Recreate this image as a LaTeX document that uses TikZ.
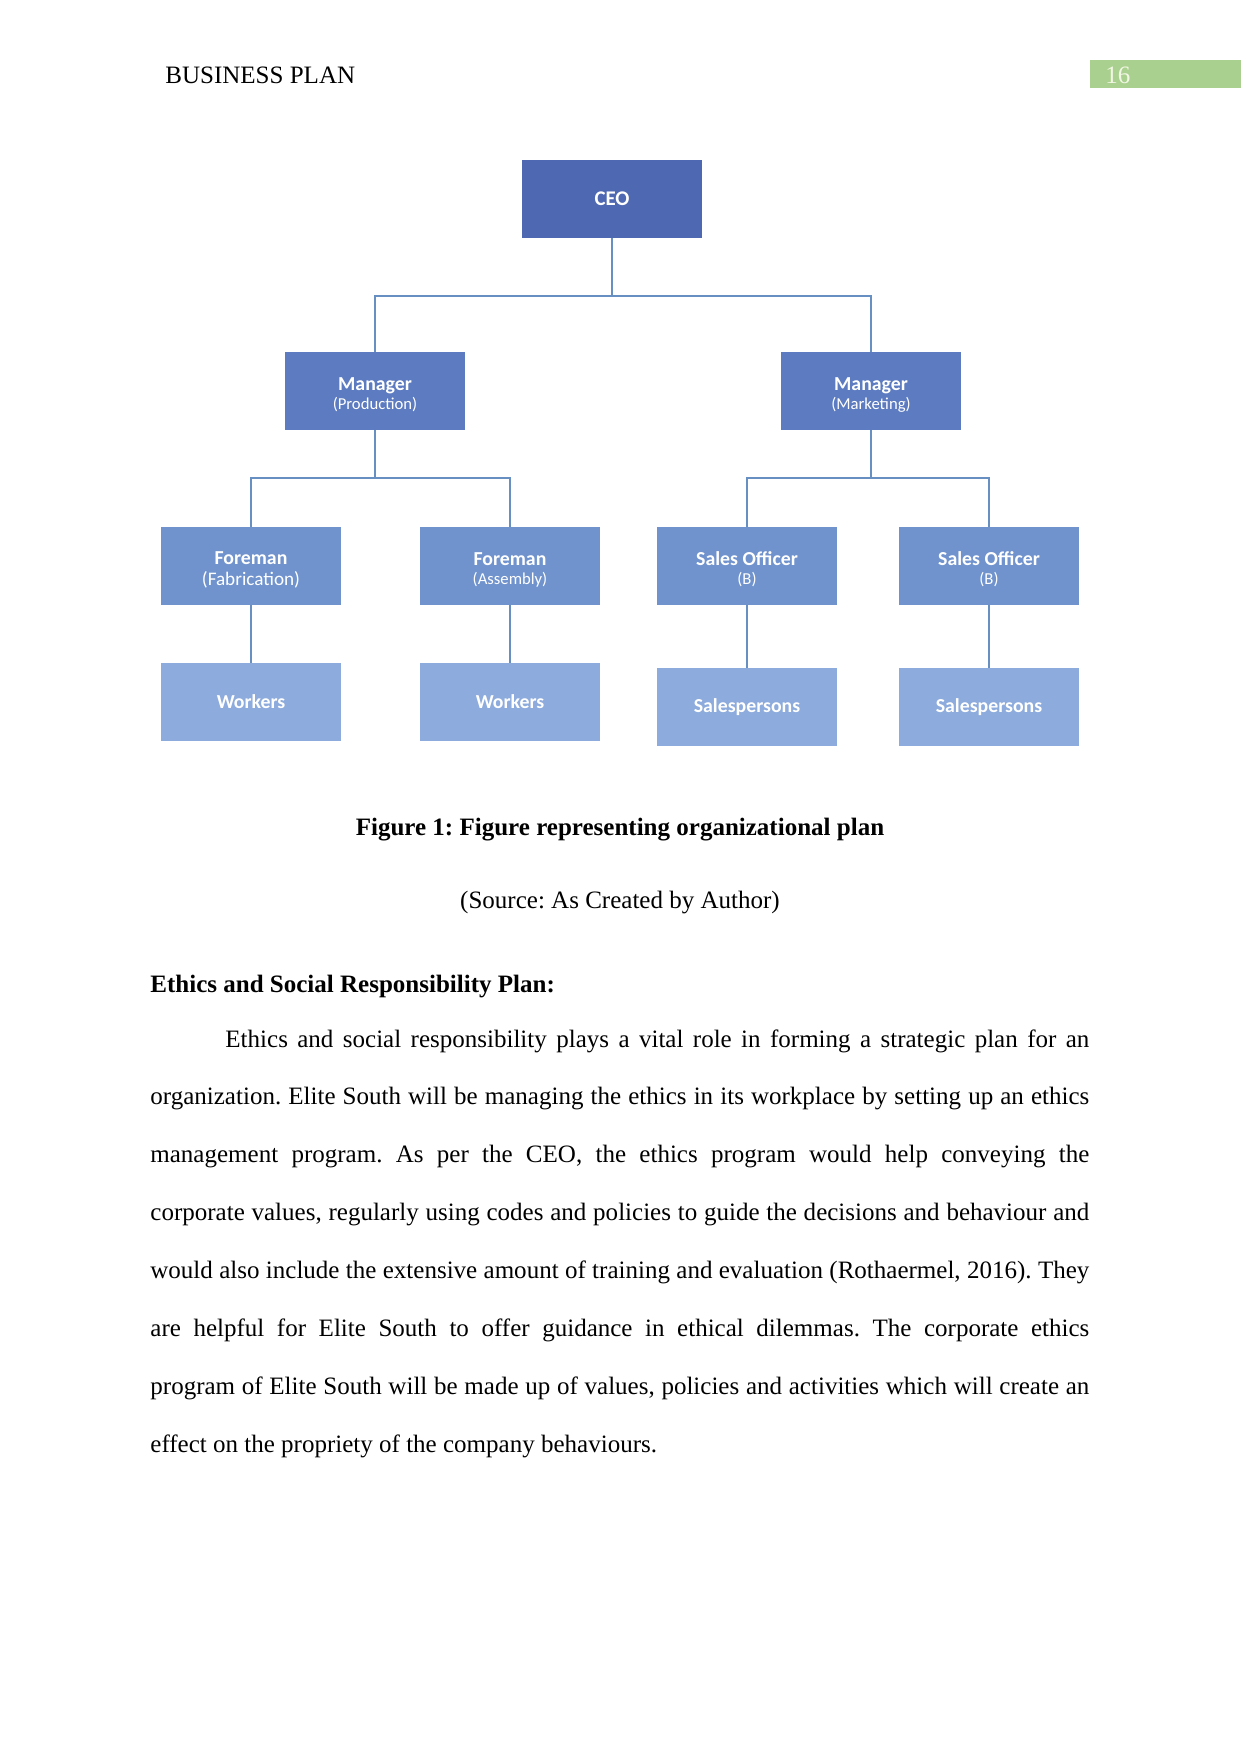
\documentclass[tikz,border=0pt]{standalone}
\usepackage{fontspec}
\setmainfont{Liberation Serif}
\newfontfamily\chartfont{Carlito}
\usetikzlibrary{positioning}
\definecolor{ceoblue}{RGB}{79,104,178}
\definecolor{mgrblue}{RGB}{92,123,192}
\definecolor{forblue}{RGB}{112,147,206}
\definecolor{wrkblue}{RGB}{141,171,220}
\definecolor{linkblue}{RGB}{104,143,193}
\definecolor{pagegreen}{RGB}{169,208,142}
\definecolor{pagecream}{RGB}{242,246,228}
\newcommand\orgtop{\rule{0pt}{10pt}}
\frenchspacing

\begin{document}
\begin{tikzpicture}[x=0.4797pt,y=-0.4797pt,
    orgbox/.style={minimum width=86.3pt, minimum height=37.4pt, inner sep=0pt, align=center,
      text=white, font=\chartfont\bfseries\fontsize{9.5}{9.6}\selectfont},
    link/.style={draw=linkblue, line width=1pt},
    bodytext/.style={inner sep=0pt, font=\fontsize{12}{27.8}\selectfont}]
  \useasboundingbox[fill=white] (0,0) rectangle (1241,1754);

  % running head
  \node[bodytext, anchor=base west] (head) at (165,84) {BUSINESS PLAN};
  \fill[pagegreen] (1090,60) rectangle (1241,88);
  \node[bodytext, anchor=base west, text=pagecream] (pageno) at (1105,84) {16};

  % organisation chart
  \node[orgbox, fill=ceoblue] (ceo) at (612,199) {\fontsize{10}{10}\selectfont CEO};
  \node[orgbox, fill=mgrblue] (mgrprod) at (375,391) {\orgtop Manager\\[-0.5pt]\mdseries\fontsize{8}{9.6}\selectfont(Production)};
  \node[orgbox, fill=mgrblue] (mgrmark) at (871,391) {\orgtop Manager\\[-0.5pt]\mdseries\fontsize{8}{9.6}\selectfont(Marketing)};
  \node[orgbox, fill=forblue] (forfab) at (251,566) {\orgtop Foreman\\[0.5pt]\mdseries\fontsize{9.2}{9.6}\selectfont(Fabrication)};
  \node[orgbox, fill=forblue] (forasm) at (510,566) {\orgtop Foreman\\[-0.5pt]\mdseries\fontsize{8}{9.6}\selectfont(Assembly)};
  \node[orgbox, fill=forblue] (soleft) at (747,566) {\orgtop Sales Officer\\[-0.5pt]\mdseries\fontsize{8}{9.6}\selectfont(B)};
  \node[orgbox, fill=forblue] (soright) at (989,566) {\orgtop Sales Officer\\[-0.5pt]\mdseries\fontsize{8}{9.6}\selectfont(B)};
  \node[orgbox, fill=wrkblue] (wrkfab) at (251,702) {Workers};
  \node[orgbox, fill=wrkblue] (wrkasm) at (510,702) {Workers};
  \node[orgbox, fill=wrkblue] (spleft) at (747,707) {Salespersons};
  \node[orgbox, fill=wrkblue] (spright) at (989,707) {Salespersons};

  \coordinate (ceojoin) at (612,296);
  \coordinate (prodjoin) at (375,478);
  \coordinate (markjoin) at (871,478);
  \draw[link] (ceo.south) -- (ceojoin) -| (mgrprod.north);
  \draw[link] (ceojoin) -| (mgrmark.north);
  \draw[link] (mgrprod.south) -- (prodjoin) -| (forfab.north);
  \draw[link] (prodjoin) -| (forasm.north);
  \draw[link] (mgrmark.south) -- (markjoin) -| (soleft.north);
  \draw[link] (markjoin) -| (soright.north);
  \foreach \a/\b in {forfab/wrkfab,forasm/wrkasm,soleft/spleft,soright/spright}
    \draw[link] (\a.south) -- (\b.north);

  % caption and text
  \node[bodytext, anchor=base, font=\bfseries\fontsize{12}{14}\selectfont] (caption) at (620,835) {Figure 1: Figure representing organizational plan};
  \node[bodytext, anchor=base] (source) at (620,908) {(Source: As Created by Author)};
  \node[bodytext, anchor=base west, font=\bfseries\fontsize{12}{14}\selectfont] (heading) at (150,992) {Ethics and Social Responsibility Plan:};
  \node[bodytext, anchor=base west, text width=450.4pt, align=justify] (para) at (150,1047) {%
    \hyphenpenalty=10000\tolerance=9999\hspace*{36pt}Ethics and social responsibility plays a vital role in forming a strategic plan for an\linebreak
    organization. Elite South will be managing the ethics in its workplace by setting up an ethics\linebreak
    management program. As per the CEO, the ethics program would help conveying the\linebreak
    corporate values, regularly using codes and policies to guide the decisions and behaviour and\linebreak
    would also include the extensive amount of training and evaluation (Rothaermel, 2016). They\linebreak
    are helpful for Elite South to offer guidance in ethical dilemmas. The corporate ethics\linebreak
    program of Elite South will be made up of values, policies and activities which will create an\linebreak
    effect on the propriety of the company behaviours.\par};
\end{tikzpicture}
\end{document}
